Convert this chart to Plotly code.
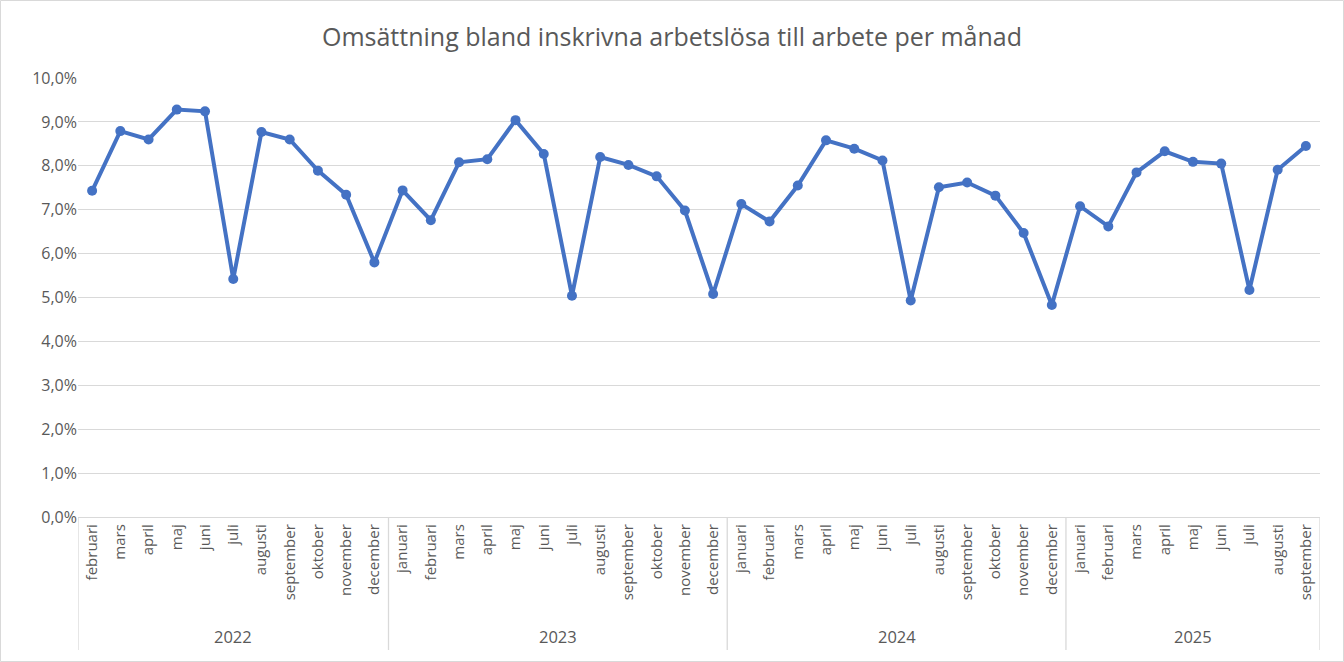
import plotly.graph_objects as go

years = ["2022", "2023", "2024", "2025"]
months_2022 = ["februari", "mars", "april", "maj", "juni", "juli", "augusti",
               "september", "oktober", "november", "december"]
months_full = ["januari", "februari", "mars", "april", "maj", "juni", "juli",
               "augusti", "september", "oktober", "november", "december"]
months_2025 = ["januari", "februari", "mars", "april", "maj", "juni", "juli",
               "augusti", "september"]

vals_2022 = [7.43, 8.79, 8.60, 9.28, 9.24, 5.42, 8.77, 8.60, 7.89, 7.34, 5.80]
vals_2023 = [7.44, 6.76, 8.08, 8.15, 9.04, 8.27, 5.04, 8.20, 8.02, 7.76, 6.98, 5.08]
vals_2024 = [7.13, 6.73, 7.55, 8.58, 8.39, 8.12, 4.93, 7.51, 7.62, 7.32, 6.47, 4.83]
vals_2025 = [7.08, 6.62, 7.85, 8.33, 8.09, 8.05, 5.17, 7.91, 8.45]

groups = [
    (years[0], months_2022, vals_2022),
    (years[1], months_full, vals_2023),
    (years[2], months_full, vals_2024),
    (years[3], months_2025, vals_2025),
]

labels, values, group_bounds = [], [], []
for yr, ms, vs in groups:
    start = len(labels)
    labels += ms
    values += [v / 100 for v in vs]
    group_bounds.append((yr, start, len(labels) - 1))

xs = list(range(len(labels)))

GRID = "#d9d9d9"
TXT = "#595959"
FONT = "Open Sans"

fig = go.Figure()
fig.add_trace(go.Scatter(
    x=xs, y=values, mode="lines+markers",
    line=dict(color="#4472C4", width=4),
    marker=dict(color="#4472C4", size=10),
    hoverinfo="y",
))

# plot-area geometry (pixels)
L, R, T, B = 78, 24, 78, 145
W, H = 1344, 662
pw = W - L - R
ph = H - T - B

def py(px_below_axis):
    return -px_below_axis / ph

shapes = []
bounds = [-0.5] + [b[2] + 0.5 for b in group_bounds]
for bx in bounds:
    shapes.append(dict(type="line", xref="x", yref="paper", x0=bx, x1=bx,
                       y0=0, y1=py(133), line=dict(color=GRID, width=1.3)))
shapes.append(dict(type="rect", xref="paper", yref="paper",
                   x0=(0.5 - L) / pw, x1=(W - 0.5 - L) / pw,
                   y0=-(H - 0.5 - T - ph) / ph, y1=(ph + T - 0.5) / ph,
                   line=dict(color=GRID, width=1)))

annotations = []
for yr, s, e in group_bounds:
    annotations.append(dict(x=(s + e) / 2, y=py(119), xref="x", yref="paper",
                            text=yr, showarrow=False, yanchor="middle",
                            font=dict(size=16.5, color=TXT, family=FONT)))

fig.update_layout(
    width=W, height=H,
    margin=dict(l=L, r=R, t=T, b=B, autoexpand=False),
    paper_bgcolor="white", plot_bgcolor="white",
    separators=", ",
    showlegend=False,
    title=dict(text="Omsättning bland inskrivna arbetslösa till arbete per månad",
               x=0.5, xanchor="center", y=1 - 37 / H, yanchor="middle",
               font=dict(size=25, color=TXT, family=FONT)),
    xaxis=dict(
        range=[-0.5, len(labels) - 0.5], automargin=False,
        tickmode="array", tickvals=xs, ticktext=labels,
        tickangle=-90, showgrid=False, zeroline=False,
        showline=True, linecolor=GRID, linewidth=1.3,
        ticks="", tickfont=dict(size=15, color=TXT, family=FONT),
    ),
    yaxis=dict(
        range=[0, 0.10], dtick=0.01, tickformat=".1%", automargin=False,
        showgrid=True, gridcolor=GRID, gridwidth=1.3,
        zeroline=False, showline=False, ticks="",
        tickfont=dict(size=16, color=TXT, family=FONT),
    ),
    shapes=shapes,
    annotations=annotations,
)

fig.write_html("out.html",
               config={"displayModeBar": False},
               post_script="document.body.style.margin='0';document.body.style.overflow='hidden';")
